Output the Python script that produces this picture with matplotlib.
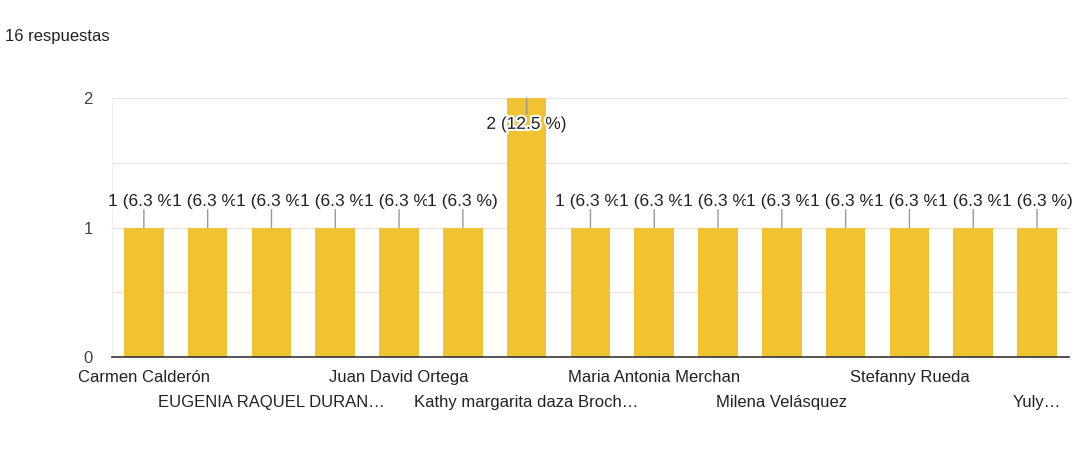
import math
import matplotlib
matplotlib.use("Agg")
import matplotlib.pyplot as plt
import matplotlib.patheffects as pe

plt.rcParams['font.family'] = ['Liberation Sans', 'DejaVu Sans']

# respondents (only every other name is readable in the original chart)
names = ["Carmen Calderón", "", "EUGENIA RAQUEL DURAN…", "", "Juan David Ortega", "",
         "Kathy margarita daza Broch…", "", "Maria Antonia Merchan", "",
         "Milena Velásquez", "", "Stefanny Rueda", "", "Yuly…"]
counts = [1, 1, 1, 1, 1, 1, 2, 1, 1, 1, 1, 1, 1, 1, 1]
total = 16
yticks = [0, 1, 2]

bar_color = '#f1c232'

fig = plt.figure(figsize=(10.85, 4.66), dpi=100)
ax = fig.add_axes([0.1032, 0.2339, 0.882, 0.5558])

x = list(range(len(counts)))
ax.bar(x, counts, width=0.62, color=bar_color, zorder=2)
ax.set_xlim(-0.5, len(counts) - 0.5)
ax.set_ylim(0, max(yticks))

# grid every half step
ax.set_yticks(yticks)
ax.set_yticks([0.5, 1.5], minor=True)
ax.grid(axis='y', which='both', color='#e6e6e6', lw=1)
ax.set_axisbelow(True)
ax.tick_params(axis='y', which='both', length=0, pad=14, labelsize=12, labelcolor='#444444')

# x labels on two alternating rows (major = top row, minor = bottom row)
row1 = list(range(0, len(names), 4))
row2 = list(range(2, len(names), 4))
ax.set_xticks(row1)
ax.set_xticklabels([names[i] for i in row1])
ax.set_xticks(row2, minor=True)
ax.set_xticklabels([names[i] for i in row2], minor=True)
ax.tick_params(axis='x', which='major', length=0, pad=9, labelsize=12, labelcolor='#222222')
ax.tick_params(axis='x', which='minor', length=0, pad=27, labelsize=12, labelcolor='#222222')

for s in ['top', 'right']:
    ax.spines[s].set_visible(False)
ax.spines['left'].set_color('#eeeeee')
ax.spines['bottom'].set_color('#333333')
ax.spines['bottom'].set_linewidth(1.2)
ax.spines['bottom'].set_zorder(3)

# value labels with a short leader line
for i, c in enumerate(counts):
    pct = math.floor(c / total * 1000 + 0.5) / 10
    txt = f"{c} ({pct:.1f} %)"
    if c == max(counts):
        ax.annotate(txt, xy=(i, c), xytext=(0, -19), textcoords='offset points',
                    ha='center', va='center', fontsize=12.5, color='#222222',
                    path_effects=[pe.withStroke(linewidth=3, foreground='white')],
                    arrowprops=dict(arrowstyle='-', color='#999999', lw=1,
                                    shrinkA=0, shrinkB=0), zorder=4)
    else:
        ax.annotate(txt, xy=(i, c), xytext=(0, 19), textcoords='offset points',
                    ha='center', va='center', fontsize=12.5, color='#222222',
                    bbox=dict(fc='white', ec='none', pad=0.6),
                    arrowprops=dict(arrowstyle='-', color='#999999', lw=1,
                                    shrinkA=0, shrinkB=0), zorder=4)

fig.text(5 / 1085, 1 - 36 / 466, f"{total} respuestas", va='center', ha='left',
         fontsize=12, color='#202124')

fig.savefig('out.png', dpi=100)
